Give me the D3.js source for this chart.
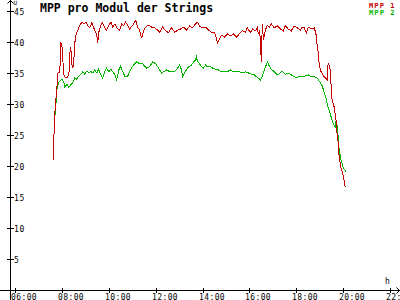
<!DOCTYPE html>
<html>
<head>
<meta charset="utf-8">
<script src="https://cdn.jsdelivr.net/npm/d3@7"></script>
<style>
html,body{margin:0;padding:0;background:#fff;}
svg{display:block;}
text{font-family:"DejaVu Sans Mono",monospace;}
</style>
</head>
<body>
<svg id="chart" width="400" height="300"></svg>
<script>
const title = "MPP pro Modul der Strings";
const seriesNames = ["MPP 1", "MPP 2"];
const seriesColors = ["#c40000", "#00b400"];
const xTickValues = [6, 8, 10, 12, 14, 16, 18, 20, 22];
const xTickLabels = ["06:00","08:00","10:00","12:00","14:00","16:00","18:00","20:00","22:00"];
const yTickValues = [5, 10, 15, 20, 25, 30, 35, 40, 45];
const xUnit = "h";
const yUnit = "U";

const mpp1Time = [7.66,7.66,7.70,7.70,7.74,7.79,7.83,7.91,7.96,8.00,8.04,8.09,8.13,8.21,8.30,8.34,8.38,8.43,8.47,8.51,8.55,8.60,8.68,8.77,8.85,8.94,9.02,9.11,9.19,9.28,9.40,9.49,9.53,9.57,9.66,9.74,9.83,9.91,10.00,10.09,10.17,10.26,10.34,10.47,10.55,10.64,10.72,10.81,10.89,11.02,11.15,11.23,11.32,11.40,11.49,11.57,11.70,11.83,11.96,12.09,12.17,12.30,12.43,12.55,12.68,12.81,12.94,13.06,13.19,13.32,13.45,13.57,13.70,13.79,13.87,13.98,14.13,14.26,14.38,14.51,14.60,14.64,14.72,14.81,14.94,15.06,15.19,15.32,15.45,15.57,15.70,15.83,15.91,16.04,16.13,16.26,16.34,16.38,16.43,16.47,16.51,16.55,16.60,16.68,16.77,16.85,16.94,17.06,17.19,17.32,17.45,17.53,17.66,17.79,17.91,18.04,18.17,18.26,18.34,18.43,18.51,18.64,18.77,18.85,18.89,18.94,18.98,19.06,19.19,19.32,19.36,19.40,19.45,19.49,19.53,19.62,19.70,19.74,19.79,19.83,19.91,20.00,20.09];
const mpp1Value = [21.0,25.0,25.8,28.5,30.6,32.7,35.0,35.2,39.8,39.5,37.1,34.7,34.4,34.2,34.7,38.2,39.2,36.3,35.8,37.1,39.8,41.1,41.9,42.7,43.2,42.9,43.2,42.6,42.3,43.1,41.9,41.1,39.8,41.5,42.7,43.1,42.3,41.9,42.7,43.2,42.4,42.9,42.3,41.9,42.9,42.6,43.2,42.7,42.1,42.7,43.5,42.4,41.9,40.6,41.9,42.4,42.7,42.4,42.3,41.9,41.6,42.4,41.8,41.5,42.3,41.6,41.9,42.1,42.4,41.9,42.6,42.3,42.9,43.2,42.6,42.3,42.4,41.9,41.6,41.5,40.6,39.8,40.5,41.1,40.8,41.3,41.0,41.3,40.8,41.3,41.8,41.6,42.3,41.5,42.1,41.8,42.4,41.3,41.9,40.3,36.8,42.9,40.3,41.9,42.7,42.4,42.9,42.3,42.6,42.1,41.8,42.6,42.1,41.8,42.6,42.3,41.9,42.4,42.3,41.5,42.4,42.1,42.3,41.1,39.5,38.2,36.3,35.2,34.4,33.9,36.6,36.3,35.5,32.7,30.6,29.5,27.4,25.3,23.7,21.5,19.7,18.5,16.6];

const mpp2Time = [7.66,7.70,7.70,7.74,7.79,7.83,7.87,7.96,8.00,8.09,8.13,8.21,8.30,8.38,8.47,8.55,8.64,8.72,8.81,8.89,8.98,9.06,9.15,9.23,9.32,9.40,9.49,9.57,9.66,9.74,9.83,9.91,10.00,10.09,10.17,10.26,10.34,10.43,10.51,10.60,10.68,10.81,10.89,11.02,11.11,11.19,11.32,11.45,11.53,11.62,11.74,11.87,12.00,12.09,12.17,12.26,12.34,12.47,12.60,12.68,12.81,12.94,13.02,13.11,13.15,13.23,13.36,13.45,13.53,13.62,13.70,13.74,13.79,13.87,13.96,14.04,14.13,14.21,14.30,14.43,14.55,14.68,14.81,14.94,15.06,15.19,15.32,15.45,15.57,15.70,15.83,15.96,16.09,16.21,16.30,16.38,16.47,16.55,16.64,16.72,16.77,16.85,16.94,17.06,17.19,17.32,17.40,17.53,17.66,17.79,17.91,18.04,18.13,18.26,18.38,18.51,18.64,18.77,18.89,19.02,19.11,19.19,19.28,19.32,19.40,19.49,19.57,19.66,19.70,19.74,19.79,19.83,19.91,20.00,20.13];
const mpp2Value = [26.3,26.3,27.9,29.5,32.3,33.1,33.5,33.9,34.0,33.4,32.7,33.2,32.7,33.1,33.5,34.2,34.0,34.5,34.8,35.2,34.8,35.3,35.0,35.3,35.0,35.5,35.0,35.6,34.7,34.2,35.2,35.8,35.2,35.6,35.2,34.7,33.9,35.5,36.1,35.2,34.5,34.5,35.2,36.1,36.5,36.8,36.5,36.5,36.1,35.8,36.0,36.8,36.5,36.0,35.5,35.0,35.2,35.5,35.2,35.2,35.2,35.8,36.3,35.5,34.4,35.0,35.8,36.1,36.3,36.8,37.1,37.6,36.8,36.5,36.0,35.8,36.3,36.0,36.1,35.8,35.6,35.5,35.2,35.3,35.2,35.5,35.2,35.3,35.2,35.0,35.2,35.0,34.8,34.7,34.4,34.2,33.9,34.4,35.5,36.3,36.8,36.1,35.6,35.2,34.7,35.0,35.3,34.8,35.0,34.7,34.4,34.2,34.5,34.4,34.5,34.7,34.4,34.4,34.2,33.5,32.9,31.9,30.8,30.0,29.0,27.9,26.9,26.3,27.4,26.6,24.7,22.6,21.0,19.8,19.0];

const W = 400, H = 300;
const svg = d3.select("#chart");
svg.append("rect").attr("width", W).attr("height", H).attr("fill", "#fff");

const x = d3.scaleLinear().domain([6, 22]).range([15, 390]);
const y = d3.scaleLinear().domain([0, 45]).range([290, 11]);
const axisX = 10, axisY = 290;

const ax = svg.append("g").attr("stroke", "#000").attr("stroke-width", 1).attr("shape-rendering", "crispEdges");
ax.append("line").attr("x1", axisX + 0.5).attr("x2", axisX + 0.5).attr("y1", 0).attr("y2", H);
ax.append("path").attr("fill", "none").attr("shape-rendering", "auto")
  .attr("d", `M${axisX - 3 + 0.5},3.5 L${axisX + 0.5},0.5 L${axisX + 3 + 0.5},3.5`);
ax.append("line").attr("x1", 0).attr("x2", W).attr("y1", axisY + 0.5).attr("y2", axisY + 0.5);
ax.append("path").attr("fill", "none").attr("shape-rendering", "auto")
  .attr("d", `M${W - 3.5},${axisY - 2.5} L${W - 0.5},${axisY + 0.5} L${W - 3.5},${axisY + 3.5}`);

const yt = svg.append("g");
yTickValues.forEach(v => {
  const py = Math.round(y(v));
  yt.append("line").attr("x1", axisX - 3).attr("x2", axisX + 4)
    .attr("y1", py + 0.5).attr("y2", py + 0.5)
    .attr("stroke", "#000").attr("shape-rendering", "crispEdges");
  yt.append("text").attr("x", 14).attr("y", py + 3.5)
    .attr("font-size", 8).attr("letter-spacing", 0.6).attr("fill", "#000").text(v);
});

const xt = svg.append("g");
xTickValues.forEach((v, i) => {
  const px = Math.round(x(v));
  xt.append("line").attr("x1", px + 0.5).attr("x2", px + 0.5)
    .attr("y1", axisY - 2).attr("y2", axisY + 3)
    .attr("stroke", "#000").attr("shape-rendering", "crispEdges");
  xt.append("text").attr("x", px - 4).attr("y", 299.5)
    .attr("font-size", 8).attr("letter-spacing", 0.4).attr("fill", "#000").text(xTickLabels[i]);
});

svg.append("text").attr("x", 13.5).attr("y", 5).attr("font-size", 6).attr("fill", "#000").text(yUnit);
svg.append("text").attr("x", 385).attr("y", 284).attr("font-size", 8).attr("fill", "#000").text(xUnit);

svg.append("text").attr("x", 40).attr("y", 11.5).attr("font-size", 11.5)
  .attr("font-weight", "bold").attr("fill", "#000").text(title);

const line = d3.line().x(d => x(d[0])).y(d => y(d[1]));
const series = [
  d3.zip(mpp2Time, mpp2Value),
  d3.zip(mpp1Time, mpp1Value)
];
svg.append("path").datum(series[0]).attr("d", line).attr("fill", "none")
  .attr("stroke", seriesColors[1]).attr("stroke-width", 1).attr("shape-rendering", "crispEdges");
svg.append("path").datum(series[1]).attr("d", line).attr("fill", "none")
  .attr("stroke", seriesColors[0]).attr("stroke-width", 1).attr("shape-rendering", "crispEdges");

seriesNames.forEach((n, i) => {
  svg.append("text").attr("x", 369).attr("y", 7.5 + i * 7).attr("font-size", 7)
    .attr("font-weight", "bold").attr("letter-spacing", 1.1)
    .attr("fill", seriesColors[i]).text(n);
});
</script>
</body>
</html>
